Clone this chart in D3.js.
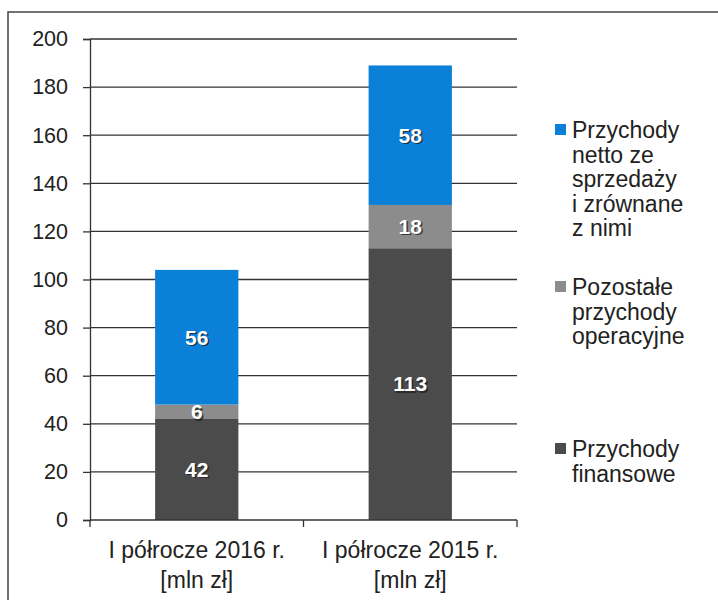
<!DOCTYPE html>
<html>
<head>
<meta charset="utf-8">
<script src="https://cdn.jsdelivr.net/npm/d3@7"></script>
<style>
  body { margin: 0; background: #fff; }
  text { font-family: "Liberation Sans", Arial, sans-serif; }
</style>
</head>
<body>
<svg id="chart" width="718" height="600"></svg>
<script>
// data
var categories = ["I półrocze 2016 r.|[mln zł]", "I półrocze 2015 r.|[mln zł]"];
var seriesNames = ["Przychody finansowe", "Pozostałe przychody operacyjne", "Przychody netto ze sprzedaży i zrównane z nimi"];
var finansowe = [42, 113];
var pozostale = [6, 18];
var netto = [56, 58];
var yTicks = [0, 20, 40, 60, 80, 100, 120, 140, 160, 180, 200];
var colors = ["#4b4b4b", "#8c8c8c", "#0a80d8"];
var legendLines = [
  ["Przychody", "netto ze", "sprzedaży", "i zrównane", "z nimi"],
  ["Pozostałe", "przychody", "operacyjne"],
  ["Przychody", "finansowe"]
];

var svg = d3.select("#chart");

// outer frame
svg.append("path")
  .attr("d", "M8,600 L8,12 L718,12")
  .attr("fill", "none")
  .attr("stroke", "#444")
  .attr("stroke-width", 1.5);

var plotLeft = 90, plotRight = 517, plotTop = 39, plotBottom = 520;

var y = d3.scaleLinear().domain([0, 200]).range([plotBottom, plotTop]);
var x = d3.scaleBand().domain(categories).range([plotLeft, plotRight]).paddingInner(0.61).paddingOuter(0.305);

// gridlines
svg.append("g").selectAll("line")
  .data(yTicks.filter(function (d) { return d > 0; }))
  .enter().append("line")
  .attr("x1", plotLeft).attr("x2", plotRight)
  .attr("y1", function (d) { return y(d); })
  .attr("y2", function (d) { return y(d); })
  .attr("stroke", "#333").attr("stroke-width", 1.3);

// stacked data
var rows = categories.map(function (c, i) {
  return { cat: c, fin: finansowe[i], poz: pozostale[i], net: netto[i] };
});
var stack = d3.stack().keys(["fin", "poz", "net"])(rows);

var layers = svg.append("g").selectAll("g")
  .data(stack)
  .enter().append("g")
  .attr("fill", function (d, i) { return colors[i]; });

layers.selectAll("rect")
  .data(function (d) { return d; })
  .enter().append("rect")
  .attr("x", function (d) { return x(d.data.cat); })
  .attr("width", x.bandwidth())
  .attr("y", function (d) { return y(d[1]); })
  .attr("height", function (d) { return y(d[0]) - y(d[1]); });

// value labels with a dark shadow
stack.forEach(function (layer) {
  layer.forEach(function (d) {
    var cx = x(d.data.cat) + x.bandwidth() / 2;
    var cy = (y(d[0]) + y(d[1])) / 2;
    var val = d[1] - d[0];
    svg.append("text")
      .attr("x", cx + 1.5).attr("y", cy + 1.5)
      .attr("dy", "0.35em")
      .attr("text-anchor", "middle")
      .attr("font-size", 21).attr("font-weight", "bold")
      .attr("fill", "#222").attr("opacity", 0.8)
      .text(val);
    svg.append("text")
      .attr("x", cx).attr("y", cy)
      .attr("dy", "0.35em")
      .attr("text-anchor", "middle")
      .attr("font-size", 21).attr("font-weight", "bold")
      .attr("fill", "#fff")
      .text(val);
  });
});

// y axis
var yAxis = svg.append("g")
  .attr("transform", "translate(" + plotLeft + ",0)")
  .call(d3.axisLeft(y).tickValues(yTicks).tickSize(7).tickPadding(15));
yAxis.select(".domain").attr("stroke", "#333").attr("stroke-width", 1.3);
yAxis.selectAll(".tick line").attr("stroke", "#333").attr("stroke-width", 1.3);
yAxis.selectAll(".tick text")
  .attr("font-size", 21.5)
  .attr("fill", "#222")
  .style("font-family", "Liberation Sans, Arial, sans-serif");

// x axis line and ticks between categories
svg.append("line")
  .attr("x1", plotLeft).attr("x2", plotRight)
  .attr("y1", plotBottom).attr("y2", plotBottom)
  .attr("stroke", "#333").attr("stroke-width", 1.3);
svg.append("g").selectAll("line")
  .data([0, 1, 2])
  .enter().append("line")
  .attr("x1", function (d) { return plotLeft + d * (plotRight - plotLeft) / 2; })
  .attr("x2", function (d) { return plotLeft + d * (plotRight - plotLeft) / 2; })
  .attr("y1", plotBottom).attr("y2", plotBottom + 7)
  .attr("stroke", "#333").attr("stroke-width", 1.3);

// category labels
categories.forEach(function (c) {
  var cx = x(c) + x.bandwidth() / 2;
  var t = svg.append("text")
    .attr("text-anchor", "middle")
    .attr("font-size", 23)
    .attr("fill", "#222");
  c.split("|").forEach(function (line, i) {
    t.append("tspan").attr("x", cx).attr("y", 558 + i * 30).text(line);
  });
});

// legend (top to bottom: netto, pozostale, finansowe)
var legendTop = [130, 287, 449];
var legendColor = [colors[2], colors[1], colors[0]];
legendLines.forEach(function (lines, k) {
  svg.append("rect")
    .attr("x", 555).attr("y", legendTop[k] - 6)
    .attr("width", 11).attr("height", 11)
    .attr("fill", legendColor[k]);
  var t = svg.append("text")
    .attr("font-size", 23)
    .attr("fill", "#222");
  lines.forEach(function (line, i) {
    t.append("tspan")
      .attr("x", 572)
      .attr("y", legendTop[k] + i * 24.5)
      .attr("dy", "0.35em")
      .text(line);
  });
});
</script>
</body>
</html>
